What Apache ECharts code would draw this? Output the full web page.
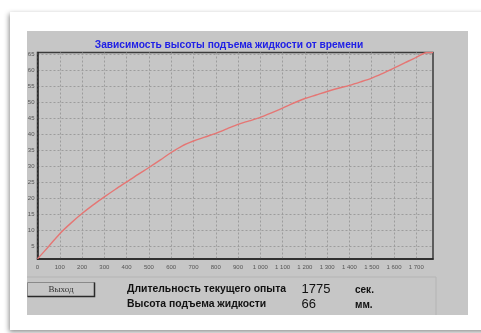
<!DOCTYPE html>
<html>
<head>
<meta charset="utf-8">
<script src="https://cdn.jsdelivr.net/npm/echarts@6/dist/echarts.min.js"></script>
<style>html,body{margin:0;padding:0;background:#fff;}#c{width:481px;height:333px;}</style>
</head>
<body>
<div id="c"></div>
<script>
const titleText = 'Зависимость высоты подъема жидкости от времени';
const timeSec = [0,50,100,150,200,250,300,350,400,450,500,550,600,650,700,750,800,850,900,950,1000,1050,1100,1150,1200,1250,1300,1350,1400,1450,1500,1550,1600,1650,1700,1750,1775];
const heightMm = [1.0,4.9,8.9,12.2,15.2,17.9,20.4,22.8,25.1,27.4,29.6,31.9,34.3,36.4,37.9,39.1,40.3,41.7,43.1,44.2,45.3,46.7,48.2,49.8,51.2,52.3,53.4,54.4,55.3,56.4,57.6,59.1,60.7,62.4,64.1,65.6,65.6];
const xTicks = [0,100,200,300,400,500,600,700,800,900,1000,1100,1200,1300,1400,1500,1600,1700];
const yTicks = [5,10,15,20,25,30,35,40,45,50,55,60,65];
const durationLabel = 'Длительность текущего опыта';
const durationValue = '1775';
const durationUnit = 'сек.';
const heightLabel = 'Высота подъема жидкости';
const heightValue = '66';
const heightUnit = 'мм.';
const buttonText = 'Выход';

const chart = echarts.init(document.getElementById('c'), null, {renderer: 'canvas'});
const panel = '#c6c6c6';
const fmt = v => { const s = String(v); return s.length > 3 ? s.slice(0, s.length-3) + ' ' + s.slice(-3) : s; };

chart.setOption({
  animation: false,
  backgroundColor: '#ffffff',
  title: {
    text: titleText, left: 224, top: 35, textAlign: 'center',
    textStyle: {color: '#2020e6', fontSize: 10.2, fontWeight: 'bold', fontFamily: 'Liberation Sans'}
  },
  grid: {
    left: 37.5, top: 52.5, right: 48, bottom: 74,
    show: true, backgroundColor: panel, borderColor: '#3a3a3a', borderWidth: 1.5
  },
  xAxis: {
    type: 'value', min: 0, max: 1775,
    axisLine: {show: true, onZero: false, lineStyle: {color: '#222', width: 1.5}},
    axisTick: {show: false, customValues: xTicks},
    axisLabel: {customValues: xTicks, formatter: fmt, fontSize: 6, color: '#555', fontFamily: 'Liberation Sans', margin: 5},
    splitLine: {show: true, lineStyle: {color: '#9c9c9c', type: [2, 2], width: 1}}
  },
  yAxis: {
    type: 'value', min: 0.97, max: 65.6,
    axisLine: {show: true, onZero: false, lineStyle: {color: '#222', width: 1.5}},
    axisTick: {show: false, customValues: yTicks},
    axisLabel: {customValues: yTicks, fontSize: 6, color: '#555', fontFamily: 'Liberation Sans', margin: 3},
    splitLine: {show: true, lineStyle: {color: '#9c9c9c', type: [2, 2], width: 1}}
  },
  series: [{
    type: 'line', data: timeSec.map((t, i) => [t, heightMm[i]]),
    showSymbol: false, smooth: 0.3, clip: true,
    lineStyle: {color: '#e57674', width: 1.4}
  }],
  graphic: {elements: [
    {type: 'rect', z: -20, shape: {x: 10, y: 12, width: 480, height: 318}, style: {fill: '#fff', shadowBlur: 5, shadowColor: 'rgba(0,0,0,0.45)', shadowOffsetX: -1, shadowOffsetY: 2}},
    {type: 'rect', z: -10, shape: {x: 27, y: 31, width: 441, height: 284}, style: {fill: panel}},
    {type: 'line', z: -5, shape: {x1: 27, y1: 277, x2: 436, y2: 277}, style: {stroke: '#b4b4b4', lineWidth: 1}},
    {type: 'line', z: -5, shape: {x1: 436, y1: 277, x2: 436, y2: 315}, style: {stroke: '#b4b4b4', lineWidth: 1}},
    {type: 'rect', z: 5, shape: {x: 27.5, y: 282.5, width: 67, height: 14}, style: {fill: panel, stroke: '#8a8a8a', lineWidth: 1}},
    {type: 'polyline', z: 6, shape: {points: [[27.5, 296.5], [94.5, 296.5], [94.5, 282.5]]}, style: {stroke: '#2a2a2a', lineWidth: 1.5, fill: null}},
    {type: 'text', z: 7, style: {text: buttonText, x: 61, y: 290, align: 'center', verticalAlign: 'middle', fill: '#333', font: '9px "Liberation Serif"'}},
    {type: 'text', z: 5, style: {text: durationLabel, x: 127, y: 289.5, verticalAlign: 'middle', fill: '#111', font: 'bold 10.4px "Liberation Sans"'}},
    {type: 'text', z: 5, style: {text: heightLabel, x: 127, y: 304.5, verticalAlign: 'middle', fill: '#111', font: 'bold 10.4px "Liberation Sans"'}},
    {type: 'text', z: 5, style: {text: durationValue, x: 301.5, y: 289, verticalAlign: 'middle', fill: '#111', font: '13px "Liberation Sans"'}},
    {type: 'text', z: 5, style: {text: heightValue, x: 301.5, y: 304, verticalAlign: 'middle', fill: '#111', font: '13px "Liberation Sans"'}},
    {type: 'text', z: 5, style: {text: durationUnit, x: 355, y: 290, verticalAlign: 'middle', fill: '#111', font: 'bold 10px "Liberation Sans"'}},
    {type: 'text', z: 5, style: {text: heightUnit, x: 355, y: 305, verticalAlign: 'middle', fill: '#111', font: 'bold 10px "Liberation Sans"'}}
  ]}
});
</script>
</body>
</html>
